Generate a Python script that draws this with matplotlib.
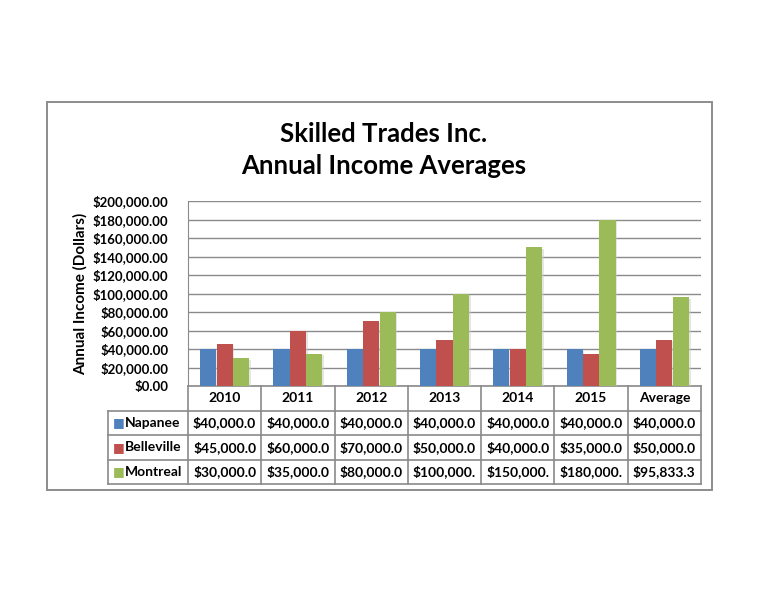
import matplotlib
matplotlib.use("Agg")
import matplotlib.pyplot as plt
import matplotlib.transforms as mtransforms
import matplotlib.patheffects as pe
from matplotlib.patches import Rectangle
from matplotlib.ticker import FuncFormatter, MultipleLocator

categories = ["2010", "2011", "2012", "2013", "2014", "2015", "Average"]
series_names = ["Napanee", "Belleville", "Montreal"]
napanee = [40000, 40000, 40000, 40000, 40000, 40000, 40000]
belleville = [45000, 60000, 70000, 50000, 40000, 35000, 50000]
montreal = [30000, 35000, 80000, 100000, 150000, 180000, 95833.33]
colors = ["#4F81BD", "#C0504D", "#9BBB59"]

W, H = 768, 594
fig = plt.figure(figsize=(W / 100, H / 100), dpi=100)
fig.patch.set_facecolor("white")
plt.rcParams["font.family"] = ["Lato", "DejaVu Sans"]


def px(x0, y0, x1, y1):
    return [x0 / W, 1 - y1 / H, (x1 - x0) / W, (y1 - y0) / H]


# outer chart border
fig.patches.append(Rectangle((47 / W, 1 - 490 / H), 665 / W, 388 / H,
                             transform=fig.transFigure, fill=False,
                             edgecolor="#8c8c8c", lw=1.4))

fig.text(384 / W, 1 - 134 / H, "Skilled Trades Inc.", ha="center", va="center",
         fontsize=18.5, fontweight="bold", color="black")
fig.text(384 / W, 1 - 166 / H, "Annual Income Averages", ha="center", va="center",
         fontsize=18.5, fontweight="bold", color="black")

ax = fig.add_axes(px(188, 201, 701, 386))
ax.set_xlim(0, len(categories))
ax.set_ylim(0, 200000)
ax.yaxis.set_major_locator(MultipleLocator(20000))
ax.yaxis.set_major_formatter(FuncFormatter(lambda v, p: f"${v:,.2f}"))
ax.tick_params(axis="y", length=0, pad=14, labelsize=9.5)
for lbl in ax.get_yticklabels():
    lbl.set_fontweight("bold")
ax.set_xticks([])
ax.grid(axis="y", color="#8a8a8a", lw=1.0)
ax.set_axisbelow(True)
for s in ["top", "right", "bottom"]:
    ax.spines[s].set_visible(False)
ax.spines["left"].set_color("#8a8a8a")
ax.set_ylabel("Annual Income (Dollars)", fontsize=11, fontweight="bold", labelpad=4)

bw = 0.22
shadow = [pe.SimplePatchShadow(offset=(1.2, -1.2), shadow_rgbFace="#cccccc", alpha=0.5),
          pe.Normal()]
for k, vals in enumerate([napanee, belleville, montreal]):
    xs = [i + 0.5 + (k - 1) * 0.225 for i in range(len(categories))]
    bars = ax.bar(xs, vals, width=bw, color=colors[k], zorder=3)
    for b in bars:
        b.set_path_effects(shadow)

# data table below the plot
trans = mtransforms.blended_transform_factory(ax.transData, ax.transAxes)
rh = 24.5 / 185
left = -80 / 513 * len(categories)
n = len(categories)
lc = "#8a8a8a"
ax.plot([0, n], [0, 0], color=lc, lw=1.2, transform=trans, clip_on=False)
for r in range(1, 5):
    ax.plot([left, n], [-r * rh, -r * rh], color=lc, lw=1.2, transform=trans, clip_on=False)
for c in range(n + 1):
    ax.plot([c, c], [0, -4 * rh], color=lc, lw=1.2, transform=trans, clip_on=False)
ax.plot([left, left], [-rh, -4 * rh], color=lc, lw=1.2, transform=trans, clip_on=False)

for i, cat in enumerate(categories):
    ax.text(i + 0.5, -0.5 * rh, cat, transform=trans, ha="center", va="center",
            fontsize=10, fontweight="bold")
for k, (name, vals) in enumerate(zip(series_names, [napanee, belleville, montreal])):
    y = -(k + 1.5) * rh
    ax.text(left + 0.07, y, "\u25A0", transform=trans, ha="left", va="center",
            fontsize=9, color=colors[k], family="DejaVu Sans")
    ax.text(left + 0.23, y, name, transform=trans, ha="left", va="center",
            fontsize=10, fontweight="bold")
    for i, v in enumerate(vals):
        ax.text(i + 0.5, y, f"${v:,.2f}"[:9], transform=trans, ha="center",
                va="center", fontsize=10, fontweight="bold")

fig.savefig("out.png", dpi=100, facecolor="white")
